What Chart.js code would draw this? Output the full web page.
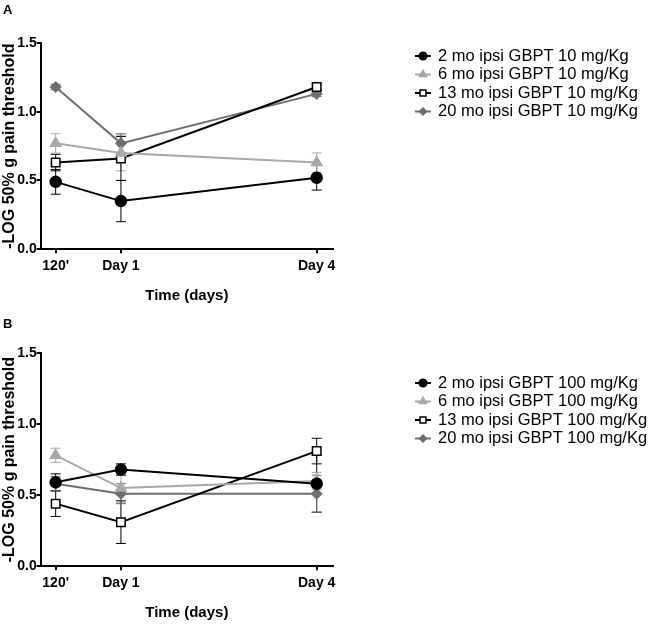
<!DOCTYPE html>
<html>
<head>
<meta charset="utf-8">
<script src="https://cdn.jsdelivr.net/npm/chart.js@4.4.1/dist/chart.umd.min.js"></script>
<style>
  body { margin: 0; background: #fff; font-family: "Liberation Sans", Arial, sans-serif; }
  .panel { position: absolute; left: 0; width: 650px; height: 313px; }
  .tag { position: absolute; left: 3px; font-weight: bold; font-size: 13px; }
</style>
</head>
<body>
<div class="panel" style="top:0"><canvas id="chartA" width="650" height="313"></canvas></div>
<div class="panel" style="top:313px"><canvas id="chartB" width="650" height="313"></canvas></div>
<div class="tag" style="top:2px">A</div>
<div class="tag" style="top:316px">B</div>
<script>
// x positions in days (120' drawn at 0)
const xValues = [0, 1, 4];
const tickLabels = ["120'", 'Day 1', 'Day 4'];

const namesA = ['2 mo ipsi GBPT 10 mg/Kg', '6 mo ipsi GBPT 10 mg/Kg', '13 mo ipsi GBPT 10 mg/Kg', '20 mo ipsi GBPT 10 mg/Kg'];
const namesB = ['2 mo ipsi GBPT 100 mg/Kg', '6 mo ipsi GBPT 100 mg/Kg', '13 mo ipsi GBPT 100 mg/Kg', '20 mo ipsi GBPT 100 mg/Kg'];

// panel A (10 mg/Kg)
const a2mo = [0.49, 0.35, 0.52];
const a6mo = [0.77, 0.70, 0.63];
const a13mo = [0.63, 0.66, 1.18];
const a20mo = [1.18, 0.77, 1.13];
const a2moErr = [0.09, 0.15, 0.09];
const a6moErr = [0.07, 0.13, 0.07];
const a13moErr = [0.06, 0.16, 0.02];
const a20moErr = [0.02, 0.07, 0.02];

// panel B (100 mg/Kg)
const b2mo = [0.59, 0.68, 0.58];
const b6mo = [0.78, 0.55, 0.60];
const b13mo = [0.44, 0.31, 0.81];
const b20mo = [0.58, 0.51, 0.51];
const b2moErr = [0.06, 0.04, 0.20];
const b6moErr = [0.05, 0.10, 0.06];
const b13moErr = [0.09, 0.15, 0.09];
const b20moErr = [0.05, 0.07, 0.13];

const styles = [
    { color: '#000000', fill: '#000000', pointStyle: 'circle', radius: 5.5 },
    { color: '#a8a8a8', fill: '#a8a8a8', pointStyle: 'triangle', radius: 6 },
    { color: '#000000', fill: '#ffffff', pointStyle: 'rect', radius: 6 },
    { color: '#6e6e6e', fill: '#6e6e6e', pointStyle: 'rectRot', radius: 5 }
];

const FONT = '"Liberation Sans", Arial, sans-serif';

const errorBars = {
    id: 'errorBars',
    beforeDatasetsDraw(chart) {
        const ctx = chart.ctx;
        const yScale = chart.scales.y;
        chart.data.datasets.forEach(function (ds, i) {
            const meta = chart.getDatasetMeta(i);
            ctx.save();
            ctx.strokeStyle = ds.borderColor;
            ctx.lineWidth = 1;
            meta.data.forEach(function (pt, j) {
                const v = ds.data[j].y;
                const e = ds.errors[j];
                const top = yScale.getPixelForValue(v + e);
                const bot = yScale.getPixelForValue(v - e);
                ctx.beginPath();
                ctx.moveTo(pt.x, top);
                ctx.lineTo(pt.x, bot);
                ctx.moveTo(pt.x - 5, top);
                ctx.lineTo(pt.x + 5, top);
                ctx.moveTo(pt.x - 5, bot);
                ctx.lineTo(pt.x + 5, bot);
                ctx.stroke();
            });
            ctx.restore();
        });
    }
};

const sideLegend = {
    id: 'sideLegend',
    afterDraw(chart) {
        const ctx = chart.ctx;
        const x0 = chart.chartArea.right + 82;
        let y = chart.chartArea.top + chart.options.plugins.sideLegend.offset;
        chart.data.datasets.forEach(function (ds, i) {
            const st = styles[i];
            ctx.save();
            ctx.strokeStyle = st.color;
            ctx.lineWidth = 2;
            ctx.beginPath();
            ctx.moveTo(x0, y);
            ctx.lineTo(x0 + 16, y);
            ctx.stroke();
            ctx.fillStyle = st.fill;
            ctx.strokeStyle = st.color;
            ctx.lineWidth = 1.5;
            Chart.helpers.drawPoint(ctx, { pointStyle: st.pointStyle, radius: st.radius * 0.7, rotation: 0, borderWidth: 1.5 }, x0 + 8, y);
            ctx.fillStyle = '#000';
            ctx.font = '16.5px ' + FONT;
            ctx.textBaseline = 'middle';
            ctx.fillText(ds.label, x0 + 23, y);
            ctx.restore();
            y += 18.5;
        });
    }
};

function makePanel(canvasId, names, series, errors, pad, legendOffset) {
    const datasets = series.map(function (vals, i) {
        const st = styles[i];
        return {
            label: names[i],
            data: vals.map(function (v, j) { return { x: xValues[j], y: v }; }),
            errors: errors[i],
            borderColor: st.color,
            backgroundColor: st.fill,
            pointBackgroundColor: st.fill,
            pointBorderColor: st.color,
            pointBorderWidth: 1.5,
            pointStyle: st.pointStyle,
            pointRadius: st.radius,
            borderWidth: 2,
            tension: 0
        };
    });

    return new Chart(document.getElementById(canvasId), {
        type: 'line',
        data: { datasets: datasets },
        plugins: [errorBars, sideLegend],
        options: {
            responsive: false,
            animation: false,
            layout: { padding: pad },
            plugins: {
                legend: { display: false },
                tooltip: { enabled: false },
                sideLegend: { offset: legendOffset }
            },
            scales: {
                x: {
                    type: 'linear',
                    min: -0.23,
                    max: 4.25,
                    afterBuildTicks: function (axis) {
                        axis.ticks = xValues.map(function (v) { return { value: v }; });
                    },
                    ticks: {
                        color: '#000',
                        font: { family: FONT, size: 14, weight: 'bold' },
                        padding: 5,
                        maxRotation: 0,
                        callback: function (v) { return tickLabels[xValues.indexOf(v)]; }
                    },
                    grid: { drawOnChartArea: false, drawTicks: true, tickLength: 4, color: '#000', lineWidth: 2 },
                    border: { color: '#000', width: 2 },
                    title: {
                        display: true, text: 'Time (days)', color: '#000',
                        font: { family: FONT, size: 15, weight: 'bold' },
                        padding: { top: 7, bottom: 0 }
                    }
                },
                y: {
                    min: 0,
                    max: 1.5,
                    ticks: {
                        stepSize: 0.5,
                        color: '#000',
                        font: { family: FONT, size: 14, weight: 'bold' },
                        padding: 0,
                        callback: function (v) { return v.toFixed(1); }
                    },
                    grid: { drawOnChartArea: false, drawTicks: true, tickLength: 4, color: '#000', lineWidth: 2 },
                    border: { color: '#000', width: 2 },
                    title: {
                        display: true, text: '-LOG 50% g pain threshold', color: '#000',
                        font: { family: FONT, size: 16, weight: 'bold' },
                        padding: { top: 0, bottom: -2 }
                    }
                }
            }
        }
    });
}

makePanel('chartA', namesA, [a2mo, a6mo, a13mo, a20mo], [a2moErr, a6moErr, a13moErr, a20moErr],
    { left: 0, top: 43, right: 317, bottom: 8 }, 13);
makePanel('chartB', namesB, [b2mo, b6mo, b13mo, b20mo], [b2moErr, b6moErr, b13moErr, b20moErr],
    { left: 0, top: 40, right: 317, bottom: 4 }, 30);
</script>
</body>
</html>
